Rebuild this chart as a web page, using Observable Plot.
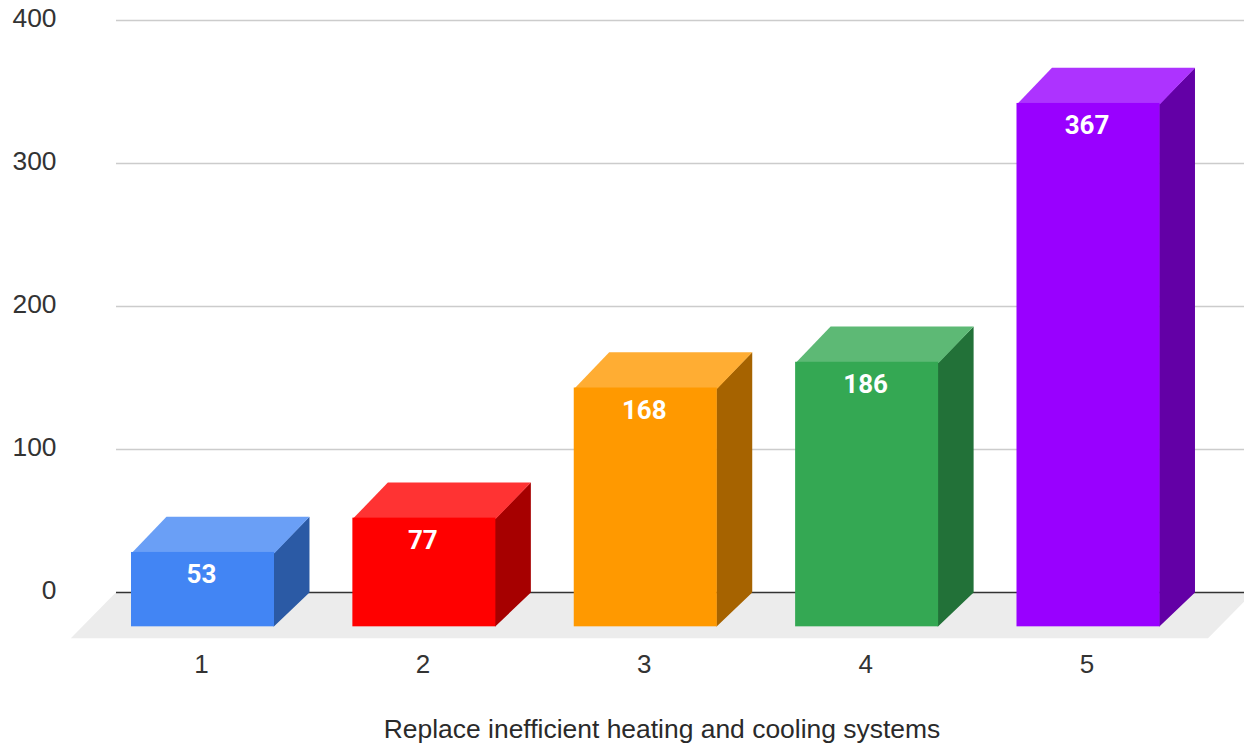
<!DOCTYPE html>
<html>
<head>
<meta charset="utf-8">
<script src="https://cdn.jsdelivr.net/npm/d3@7"></script>
<script src="https://cdn.jsdelivr.net/npm/@observablehq/plot@0.6"></script>
<style>
  html, body { margin: 0; padding: 0; background: #fff; overflow: hidden; }
  svg { display: block; }
  #caption { width: 1244px; box-sizing: border-box; padding-left: 80px; text-align: center;
    font: 26.45px "Liberation Sans", Arial, sans-serif; color: #2a2a2a; height: 38px; line-height: 48px; white-space: nowrap; }
</style>
</head>
<body>
<div id="chart"></div>
<div id="caption"></div>
<script>
const xLabel = "Replace inefficient heating and cooling systems";
const categories = [1, 2, 3, 4, 5];
const values = [53, 77, 168, 186, 367];
const frontColors = ["#4285f4", "#ff0000", "#ff9900", "#34a853", "#9900ff"];
const topColors = ["#6a9ff6", "#ff3333", "#ffad33", "#5db975", "#ad33ff"];
const sideColors = ["#2b5aa5", "#a60000", "#a66300", "#227138", "#6300a6"];
const yTicks = [0, 100, 200, 300, 400];

// Box geometry, in data units of the two scales
const halfWidth = 0.323;
const depthX = 0.158;
const depthY = 24;
const depthTop = 25;
const overlap = 0.004;
const floorLeft = 0.403;
const floorRight = 5.54;
const floorShift = 0.203;
const floorDrop = 32;

const bars = categories.map((c, i) => ({c, v: values[i], front: frontColors[i], top: topColors[i], side: sideColors[i]}));

const topFaces = bars.flatMap((b) => [
  [b.c - halfWidth, b.v - depthTop - 0.5], [b.c + halfWidth, b.v - depthTop - 0.5],
  [b.c + halfWidth + depthX, b.v], [b.c - halfWidth + depthX, b.v]
].map(([x, y]) => ({x, y, id: b.c, color: b.top})));

const sideFaces = bars.flatMap((b) => [
  [b.c + halfWidth - overlap, -depthY], [b.c + halfWidth - overlap, b.v - depthTop],
  [b.c + halfWidth, b.v - depthTop], [b.c + halfWidth + depthX, b.v], [b.c + halfWidth + depthX, 0]
].map(([x, y]) => ({x, y, id: b.c, color: b.side})));

const floorFace = [
  {x: floorLeft, y: -floorDrop}, {x: floorRight, y: -floorDrop},
  {x: floorRight + floorShift, y: 0}, {x: floorLeft + floorShift, y: 0}
];

const chart = Plot.plot({
  width: 1244,
  height: 705,
  marginLeft: 116,
  marginRight: 0,
  marginTop: 0,
  marginBottom: 52,
  style: {background: "#fff"},
  x: {type: "linear", domain: [1, 5], range: [202.5, 1088], label: null},
  y: {type: "linear", domain: [0, 400], range: [592, 20], label: null},
  marks: [
    Plot.line(floorFace, {x: "x", y: "y", fill: "#ececec", stroke: "none"}),
    Plot.ruleY(yTicks.filter((t) => t !== 0), {stroke: "#cccccc", strokeWidth: 1.6}),
    Plot.ruleY([0], {stroke: "#333333", strokeWidth: 1.6}),
    Plot.axisY({
      ticks: yTicks, tickSize: 0, tickPadding: 60, dy: -2, label: null,
      fontSize: 26.4, fontFamily: "Liberation Sans, Arial, sans-serif", color: "#333", stroke: "none"
    }),
    Plot.axisX({
      ticks: categories, tickFormat: (d) => String(d), tickSize: 0, tickPadding: 1, dx: -1.5, label: null,
      fontSize: 26, fontFamily: "Liberation Sans, Arial, sans-serif", color: "#333", stroke: "none"
    }),
    Plot.line(sideFaces, {x: "x", y: "y", z: "id", fill: "color", stroke: "none"}),
    Plot.line(topFaces, {x: "x", y: "y", z: "id", fill: "color", stroke: "none"}),
    Plot.rect(bars, {
      x1: (d) => d.c - halfWidth, x2: (d) => d.c + halfWidth,
      y1: -depthY, y2: (d) => d.v - depthTop, fill: "front"
    }),
    Plot.text(bars, {
      x: "c", y: (d) => d.v - depthTop, text: (d) => String(d.v), dy: 22.5, dx: -1.5,
      fill: "#fff", fontSize: 26, fontWeight: 700, fontFamily: "Roboto, sans-serif"
    })
  ]
});
document.getElementById("chart").append(chart);
document.getElementById("caption").textContent = xLabel;
</script>
</body>
</html>
